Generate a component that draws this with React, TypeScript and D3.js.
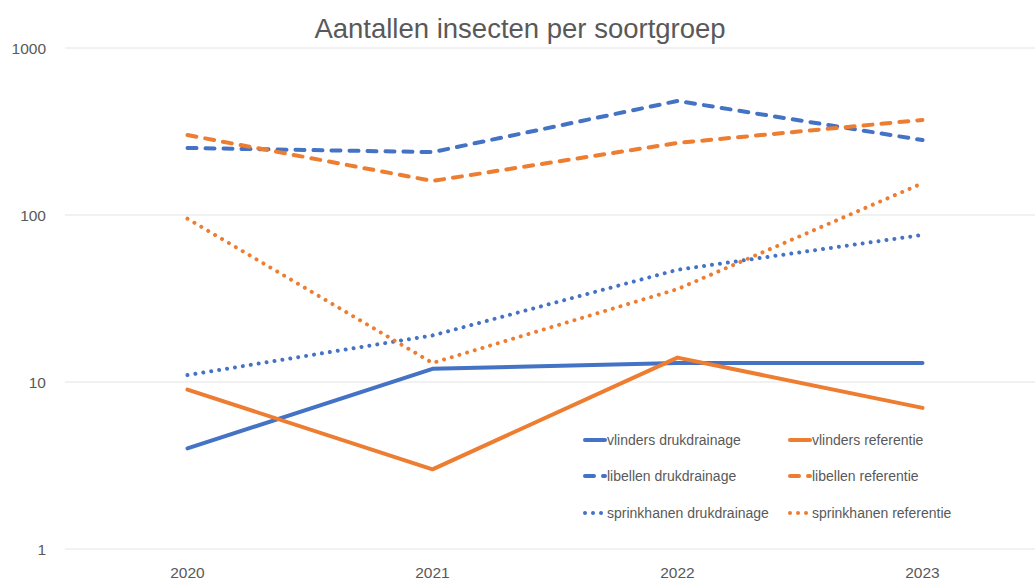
import React from "react";
import * as d3 from "d3";

const years = ["2020", "2021", "2022", "2023"];
const vlindersDruk = [4, 12, 13, 13];
const vlindersRef = [9, 3, 14, 7];
const libellenDruk = [252, 238, 482, 281];
const libellenRef = [301, 160, 270, 371];
const sprinkDruk = [11, 19, 47, 76];
const sprinkRef = [95, 13, 36, 155];
const yTicks = [1, 10, 100, 1000];

const BLUE = "#4472C4";
const ORANGE = "#ED7D31";

const series = [
  { name: "vlinders drukdrainage", values: vlindersDruk, color: BLUE, style: "solid" },
  { name: "vlinders referentie", values: vlindersRef, color: ORANGE, style: "solid" },
  { name: "libellen drukdrainage", values: libellenDruk, color: BLUE, style: "dash" },
  { name: "libellen referentie", values: libellenRef, color: ORANGE, style: "dash" },
  { name: "sprinkhanen drukdrainage", values: sprinkDruk, color: BLUE, style: "dot" },
  { name: "sprinkhanen referentie", values: sprinkRef, color: ORANGE, style: "dot" },
];

const W = 1035;
const H = 580;
const FONT = "'Liberation Sans', Arial, sans-serif";
const TEXT = "#595959";

function dash(style: string) {
  if (style === "dash") return "9,9";
  if (style === "dot") return "0.01,8";
  return undefined;
}

export default function App() {
  const x = d3.scaleBand<string>().domain(years).range([65, 1045]);
  const y = d3.scaleLog().domain([1, 1000]).range([549, 48]);
  const cx = (d: string) => (x(d) as number) + x.bandwidth() / 2;
  const line = d3
    .line<number>()
    .x((_, i) => cx(years[i]))
    .y((v) => y(v));

  const legendCols = [585, 790];
  const legendRows = [440, 476, 513];

  return (
    <svg
      width={W}
      height={H}
      style={{ position: "absolute", left: 0, top: 0, background: "#fff" }}
      fontFamily={FONT}
    >
      <rect x={0} y={0} width={W} height={H} fill="#fff" />
      <text x={520} y={38} textAnchor="middle" fontSize={27.5} fill={TEXT}>
        Aantallen insecten per soortgroep
      </text>
      {yTicks.map((t) => (
        <g key={t}>
          <line x1={65} x2={W} y1={y(t)} y2={y(t)} stroke="#E4E4E4" strokeWidth={1} />
          <text x={46} y={y(t) + 5.5} textAnchor="end" fontSize={15.5} fill={TEXT}>
            {t}
          </text>
        </g>
      ))}
      {years.map((yr) => (
        <text key={yr} x={cx(yr)} y={578} textAnchor="middle" fontSize={15.5} fill={TEXT}>
          {yr}
        </text>
      ))}
      {series.map((s) => (
        <path
          key={s.name}
          d={line(s.values) as string}
          fill="none"
          stroke={s.color}
          strokeWidth={4}
          strokeDasharray={dash(s.style)}
          strokeLinecap="round"
          strokeLinejoin="round"
        />
      ))}
      {series.map((s, i) => {
        const lx = legendCols[i % 2];
        const ly = legendRows[Math.floor(i / 2)];
        return (
          <g key={"lg" + s.name}>
            <line
              x1={lx}
              x2={lx + 20}
              y1={ly}
              y2={ly}
              stroke={s.color}
              strokeWidth={4}
              strokeDasharray={s.style === "dash" ? "9,9" : s.style === "dot" ? "0.01,8" : undefined}
              strokeLinecap="round"
            />
            <text x={lx + 22} y={ly + 5} fontSize={14} fill={TEXT}>
              {s.name}
            </text>
          </g>
        );
      })}
    </svg>
  );
}
